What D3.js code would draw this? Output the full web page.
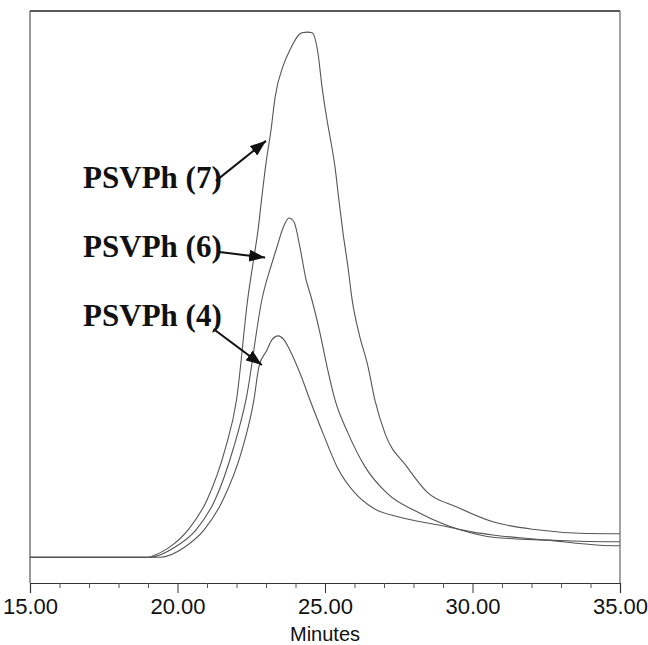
<!DOCTYPE html>
<html>
<head>
<meta charset="utf-8">
<script src="https://cdn.jsdelivr.net/npm/d3@7"></script>
<style>
    body { margin: 0; background: #fff; }
</style>
</head>
<body>
<div id="cromatograma"></div>
<script>
const minutos7 = [15.00, 19.00, 19.24, 19.68, 20.36, 21.00, 21.61, 22.00, 22.39, 22.56, 22.73, 22.86, 23.00, 23.17, 23.31, 23.58, 23.81, 24.22, 24.42, 24.56, 24.76, 24.90, 25.07, 25.17, 25.34, 25.47, 25.61, 25.78, 25.92, 26.15, 26.46, 26.69, 27.03, 27.78, 28.46, 29.47, 30.69, 32.19, 33.64, 35.00];
const senal7 = [4.5, 4.5, 4.9, 6.1, 9.3, 14.5, 23.3, 32.0, 50.0, 55.9, 61.7, 67.5, 73.4, 79.2, 85.0, 90.4, 93.2, 96.2, 96.3, 96.2, 92.7, 86.7, 80.9, 78.0, 72.7, 67.0, 61.2, 55.2, 49.5, 43.7, 37.8, 32.0, 26.2, 20.3, 15.9, 13.3, 10.7, 9.3, 8.7, 8.6];

const minutos6 = [15.00, 19.07, 19.92, 20.63, 21.27, 21.88, 22.32, 22.88, 23.20, 23.37, 23.58, 23.78, 23.95, 24.15, 24.36, 24.53, 24.83, 25.07, 25.34, 25.78, 26.36, 27.10, 28.22, 29.58, 30.69, 32.53, 33.64, 35.00];
const senal6 = [4.5, 4.5, 6.3, 9.3, 14.5, 23.3, 32.0, 50.0, 55.9, 58.7, 62.1, 63.8, 63.1, 58.7, 53.0, 50.0, 43.7, 37.8, 32.0, 26.2, 20.3, 15.7, 12.2, 9.3, 8.0, 7.5, 7.3, 7.2];

const minutos4 = [15.00, 19.41, 20.25, 20.90, 21.54, 22.19, 22.59, 22.76, 23.03, 23.20, 23.41, 23.61, 23.81, 24.15, 24.49, 24.93, 25.41, 26.02, 26.63, 27.54, 28.90, 30.02, 30.69, 32.53, 34.32, 35.00];
const senal4 = [4.5, 4.5, 6.3, 9.3, 14.5, 23.3, 32.0, 37.8, 40.7, 42.5, 43.2, 42.5, 40.7, 36.7, 32.0, 26.2, 20.3, 15.7, 13.1, 11.5, 10.1, 8.9, 8.4, 7.5, 6.6, 6.5];

const ticksMayores = [15, 20, 25, 30, 35];
const ticksMenores = [16, 17, 18, 19, 21, 22, 23, 24, 26, 27, 28, 29, 31, 32, 33, 34];

// Etiquetas y flechas (en coordenadas de datos)
const nombres = ["PSVPh (7)", "PSVPh (6)", "PSVPh (4)"];
const posEtiqueta = [[16.80, 69.1], [16.80, 57.0], [16.80, 44.9]];
const flechaDesde = [[21.30, 70.3], [21.35, 57.9], [21.22, 44.4]];
const flechaHasta = [[23.00, 77.3], [22.97, 56.9], [22.86, 38.1]];

const series = [
    { x: minutos7, y: senal7 },
    { x: minutos6, y: senal6 },
    { x: minutos4, y: senal4 }
];

const svgWidth = 648, svgHeight = 645;
const margin = { top: 11, right: 28, bottom: 62, left: 30 };
const width = svgWidth - margin.left - margin.right;
const height = svgHeight - margin.top - margin.bottom;

const svg = d3.select("#cromatograma")
    .append("svg")
    .attr("width", svgWidth)
    .attr("height", svgHeight)
    .append("g")
    .attr("transform", `translate(${margin.left}, ${margin.top})`);

const x = d3.scaleLinear().domain([15, 35]).range([0, width]);
const y = d3.scaleLinear().domain([0, 100]).range([height, 0]);

// Marco
svg.append("line")
    .attr("x1", 0).attr("x2", width).attr("y1", 0).attr("y2", 0)
    .attr("stroke", "#222").attr("stroke-width", 1.5);
svg.append("line")
    .attr("x1", 0).attr("x2", 0).attr("y1", 0).attr("y2", height)
    .attr("stroke", "#555").attr("stroke-width", 1.2);
svg.append("line")
    .attr("x1", width).attr("x2", width).attr("y1", 0).attr("y2", height)
    .attr("stroke", "#666").attr("stroke-width", 1.2);

// Eje X
const ejeX = svg.append("g")
    .attr("transform", `translate(0, ${height})`)
    .call(d3.axisBottom(x)
        .tickValues(ticksMayores)
        .tickFormat(d3.format(".2f"))
        .tickSize(10)
        .tickPadding(5));
ejeX.select(".domain").attr("stroke", "#333").attr("stroke-width", 1.2);
ejeX.selectAll(".tick line").attr("stroke", "#333");
ejeX.selectAll("text")
    .style("font-family", "'Liberation Sans', Arial, sans-serif")
    .style("font-size", "22px")
    .attr("fill", "#111");

svg.append("g")
    .attr("transform", `translate(0, ${height})`)
    .call(d3.axisBottom(x).tickValues(ticksMenores).tickSize(5).tickFormat(""))
    .call(g => g.select(".domain").remove())
    .selectAll(".tick line").attr("stroke", "#555");

// Etiqueta de eje X
svg.append("text")
    .attr("x", width / 2)
    .attr("y", height + 58)
    .attr("text-anchor", "middle")
    .style("font-family", "'Liberation Sans', Arial, sans-serif")
    .style("font-size", "20px")
    .attr("fill", "#111")
    .text("Minutes");

// Curvas
const linea = d3.line()
    .x(d => x(d[0]))
    .y(d => y(d[1]))
    .curve(d3.curveMonotoneX);

series.forEach(s => {
    svg.append("path")
        .datum(s.x.map((m, i) => [m, s.y[i]]))
        .attr("fill", "none")
        .attr("stroke", "#555")
        .attr("stroke-width", 1.1)
        .attr("d", linea);
});

// Flechas
svg.append("defs").append("marker")
    .attr("id", "punta")
    .attr("markerUnits", "userSpaceOnUse")
    .attr("viewBox", "0 0 16 12")
    .attr("refX", 16).attr("refY", 6)
    .attr("markerWidth", 16).attr("markerHeight", 12)
    .attr("orient", "auto")
    .append("path")
    .attr("d", "M0,0 L16,6 L0,12 Z")
    .attr("fill", "#111");

nombres.forEach((n, i) => {
    svg.append("text")
        .attr("x", x(posEtiqueta[i][0]))
        .attr("y", y(posEtiqueta[i][1]))
        .style("font-family", "'Liberation Serif', 'Times New Roman', serif")
        .style("font-weight", "bold")
        .style("font-size", "31px")
        .attr("fill", "#111")
        .text(n);

    svg.append("line")
        .attr("x1", x(flechaDesde[i][0]))
        .attr("y1", y(flechaDesde[i][1]))
        .attr("x2", x(flechaHasta[i][0]))
        .attr("y2", y(flechaHasta[i][1]))
        .attr("stroke", "#111")
        .attr("stroke-width", 2)
        .attr("marker-end", "url(#punta)");
});
</script>
</body>
</html>
